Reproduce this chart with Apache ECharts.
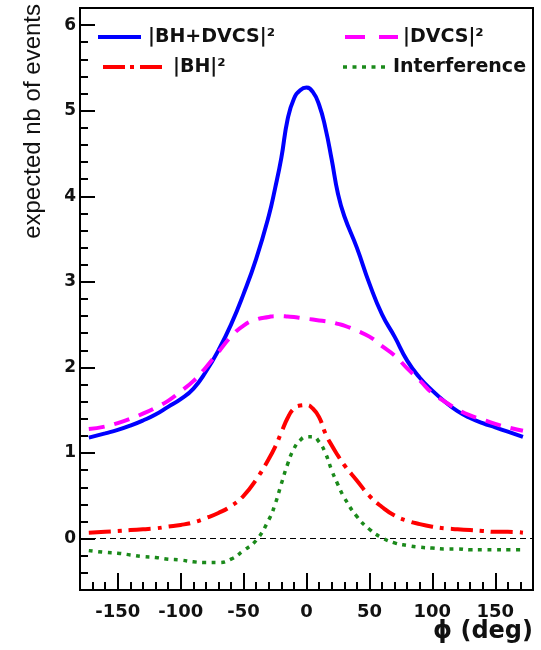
<!DOCTYPE html>
<html>
<head>
<meta charset="utf-8">
<script src="https://cdn.jsdelivr.net/npm/echarts@6/dist/echarts.min.js"></script>
<style>
html,body{margin:0;padding:0;background:#fff;}
#chart{width:541px;height:650px;}
</style>
</head>
<body>
<div id="chart"></div>
<script>
// phi (deg) sample positions
const phi = [-173,-160,-150,-140,-130,-120,-110,-100,-90,-80,-70,-60,-50,-40,-30,-25,-20,-15,-10,-5,0,5,10,15,20,25,30,40,50,60,70,80,90,100,110,120,130,140,150,160,172];
// |BH+DVCS|^2
const bhDvcs = [1.18,1.23,1.27,1.32,1.38,1.45,1.54,1.63,1.75,1.95,2.20,2.50,2.86,3.27,3.77,4.09,4.45,4.90,5.14,5.24,5.27,5.22,5.07,4.80,4.43,4.03,3.77,3.40,2.98,2.62,2.36,2.08,1.88,1.73,1.60,1.49,1.41,1.35,1.30,1.25,1.19];
// |DVCS|^2
const dvcs = [1.28,1.31,1.35,1.40,1.46,1.53,1.61,1.72,1.84,2.00,2.18,2.36,2.49,2.56,2.59,2.60,2.60,2.595,2.59,2.58,2.57,2.56,2.55,2.54,2.53,2.51,2.49,2.43,2.36,2.25,2.14,1.99,1.85,1.70,1.60,1.51,1.44,1.39,1.34,1.30,1.26];
// |BH|^2
const bh = [0.07,0.08,0.09,0.10,0.11,0.12,0.14,0.16,0.19,0.24,0.30,0.38,0.50,0.69,0.93,1.07,1.24,1.41,1.52,1.555,1.56,1.52,1.42,1.23,1.09,0.97,0.86,0.68,0.50,0.37,0.27,0.21,0.17,0.14,0.12,0.11,0.10,0.09,0.08,0.08,0.07];
// Interference
const interf = [-0.14,-0.16,-0.17,-0.19,-0.21,-0.22,-0.24,-0.25,-0.27,-0.28,-0.28,-0.24,-0.14,-0.02,0.22,0.40,0.64,0.87,1.05,1.15,1.19,1.19,1.13,1.00,0.80,0.63,0.48,0.26,0.11,0.01,-0.05,-0.08,-0.10,-0.11,-0.12,-0.12,-0.13,-0.13,-0.13,-0.13,-0.13];

const xMajor = [-150,-100,-50,0,50,100,150];
const xMinor = [];
for (let k=-18;k<=18;k++){ if (k%5!==0) xMinor.push(k*10); }
const yMajor = [0,1,2,3,4,5,6];
const yMinor = [];
for (let k=-3;k<=31;k++){ if (k%5!==0) yMinor.push(Math.round(k*2)/10); }

const legendNames = ['|BH+DVCS|²','|DVCS|²','|BH|²','Interference'];
const colors = ['#0000ff','#ff00ff','#ff0000','#1b8a1b'];
const dashes = [null,[16,10],[22,7,4,7],[4,5.5]];
const widths = [4,4,4,3.5];

const FONT = 'DejaVu Sans';
const pairs = v => phi.map((p,i)=>[p,v[i]]);

const chart = echarts.init(document.getElementById('chart'), null, {renderer:'canvas'});

function mkSeries(name, vals, i, extra){
  return Object.assign({
    name: name, type:'line', data: pairs(vals), smooth:0.5,
    showSymbol:false, symbol:'none', xAxisIndex:0, yAxisIndex:0,
    lineStyle:{color:colors[i], width:widths[i], type: dashes[i] || 'solid', cap:'butt', join:'round'},
    silent:true, animation:false, z:3+i
  }, extra||{});
}

const axisCommon = {
  axisLine:{show:true,onZero:false,lineStyle:{color:'#000',width:2}},
  splitLine:{show:false}
};

const option = {
  backgroundColor:'#fff',
  animation:false,
  grid:{left:80,right:8,top:8,bottom:60,show:true,borderColor:'#000',borderWidth:2,backgroundColor:'transparent'},
  xAxis:[
    Object.assign({type:'value',min:-180,max:180,position:'bottom',
      axisTick:{show:true,inside:true,length:17,customValues:xMajor,lineStyle:{color:'#000',width:2}},
      axisLabel:{show:true,customValues:xMajor,margin:13,color:'#111',fontFamily:FONT,fontWeight:'bold',fontSize:18}
    }, axisCommon),
    {type:'value',min:-180,max:180,position:'bottom',axisLine:{show:false,onZero:false},splitLine:{show:false},
      axisTick:{show:true,inside:true,length:8,customValues:xMinor,lineStyle:{color:'#000',width:2}},
      axisLabel:{show:false}}
  ],
  yAxis:[
    Object.assign({type:'value',min:-0.6,max:6.2,position:'left',
      axisTick:{show:true,inside:true,length:15,customValues:yMajor,lineStyle:{color:'#000',width:2}},
      axisLabel:{show:true,customValues:yMajor,margin:4,color:'#111',fontFamily:FONT,fontWeight:'bold',fontSize:17}
    }, axisCommon),
    {type:'value',min:-0.6,max:6.2,position:'left',axisLine:{show:false,onZero:false},splitLine:{show:false},
      axisTick:{show:true,inside:true,length:8,customValues:yMinor,lineStyle:{color:'#000',width:2}},
      axisLabel:{show:false}}
  ],
  series:[
    mkSeries(legendNames[2], bh, 2),
    mkSeries(legendNames[3], interf, 3),
    mkSeries(legendNames[1], dvcs, 1),
    mkSeries(legendNames[0], bhDvcs, 0, {
      markLine:{silent:true,symbol:['none','none'],label:{show:false},
        lineStyle:{color:'#000',width:1.2,type:[6,4]},
        data:[{yAxis:0}]}
    })
  ],
  graphic:[
    {type:'text',x:33,y:4,rotation:Math.PI/2,
      style:{text:'expected nb of events',fill:'#111',font:'24px "Liberation Sans", Arial, sans-serif',align:'right',verticalAlign:'middle'}},
    {type:'text',x:533,y:632,
      style:{text:'ϕ (deg)',fill:'#111',font:'bold 24px "DejaVu Sans", sans-serif',align:'right',verticalAlign:'middle'}},
    // legend samples
    {type:'line',shape:{x1:98,y1:37,x2:141,y2:37},style:{stroke:colors[0],lineWidth:4}},
    {type:'text',x:148,y:37,style:{text:legendNames[0],fill:'#111',font:'bold 19px "DejaVu Sans", sans-serif',verticalAlign:'middle'}},
    {type:'line',shape:{x1:345,y1:37,x2:398,y2:37},style:{stroke:colors[1],lineWidth:4,lineDash:[20,14]}},
    {type:'text',x:403,y:37,style:{text:legendNames[1],fill:'#111',font:'bold 19px "DejaVu Sans", sans-serif',verticalAlign:'middle'}},
    {type:'line',shape:{x1:103,y1:67,x2:162,y2:67},style:{stroke:colors[2],lineWidth:4,lineDash:[22,5,4,6]}},
    {type:'text',x:173,y:67,style:{text:legendNames[2],fill:'#111',font:'bold 19px "DejaVu Sans", sans-serif',verticalAlign:'middle'}},
    {type:'line',shape:{x1:343,y1:67,x2:387,y2:67},style:{stroke:colors[3],lineWidth:3.5,lineDash:[4,5.5]}},
    {type:'text',x:393,y:67,style:{text:legendNames[3],fill:'#111',font:'bold 19px "DejaVu Sans", sans-serif',verticalAlign:'middle'}}
  ]
};
chart.setOption(option);
</script>
</body>
</html>
